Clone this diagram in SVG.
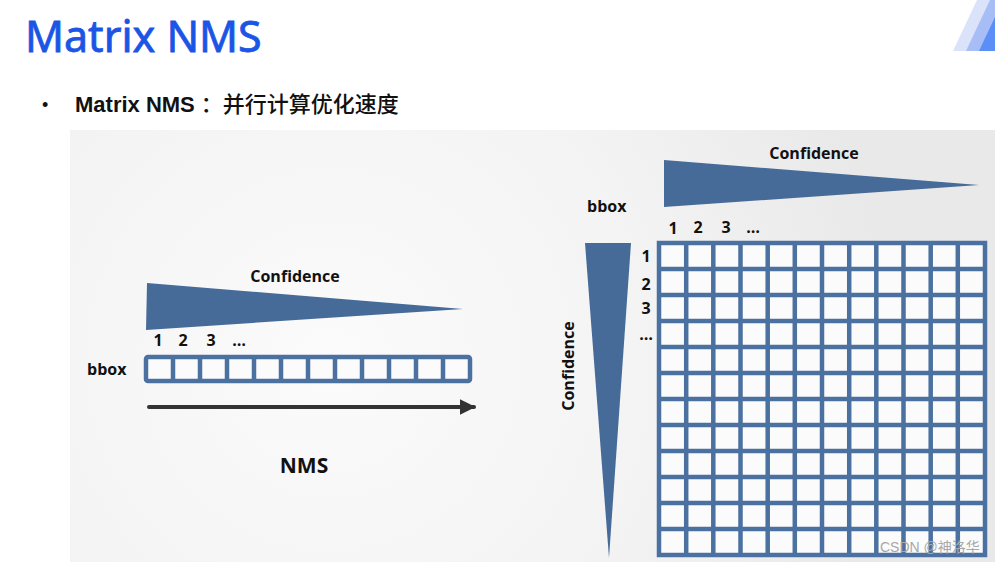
<svg xmlns="http://www.w3.org/2000/svg" width="995" height="562" viewBox="0 0 995 562">
<defs>
<radialGradient id="bg" cx="330" cy="360" r="560" gradientUnits="userSpaceOnUse">
<stop offset="0" stop-color="#fbfbfb"/>
<stop offset="0.6" stop-color="#f3f3f3"/>
<stop offset="1" stop-color="#e9e9e9"/>
</radialGradient>
<marker id="ah" viewBox="0 0 10 10" refX="9" refY="5" markerWidth="4" markerHeight="4.4" orient="auto" markerUnits="strokeWidth">
<path d="M0,0 L10,5 L0,10 z" fill="#333"/>
</marker>
<style>
.tri{fill:#466b99}
.grid{fill:#fbfbfb;stroke:#4b71a1;stroke-width:4.5}
.gl{fill:none;stroke:#4b71a1;stroke-width:4.5}
.lbl{font-family:"Open Sans","Liberation Sans",sans-serif;font-weight:bold;font-size:16px;fill:#111}
.num{font-family:"Open Sans","Liberation Sans",sans-serif;font-weight:bold;font-size:16px;fill:#111}
</style>
</defs>
<rect width="995" height="562" fill="#ffffff"/>
<g id="deco">
<polygon points="953,51 977,0 995,0 995,51" fill="#dbe3fb"/>
<polygon points="966,51 990,0 995,0 995,51" fill="#a6bdf6"/>
<polygon points="979,51 995,17 995,51" fill="#5b8ef6"/>
</g>
<text id="title" x="25" y="52" font-family="'Noto Sans','Open Sans',sans-serif" font-size="43" fill="#1a55e6" stroke="#1a55e6" stroke-width="0.8">Matrix NMS</text>
<g id="subtitle">
<text x="42" y="111" font-family="'Liberation Sans',sans-serif" font-size="18" fill="#111">•</text>
<text x="75" y="112" font-family="'Liberation Sans','Noto Sans CJK SC',sans-serif" font-size="22" fill="#111"><tspan font-weight="bold">Matrix NMS</tspan><tspan dx="6" font-family="'Noto Sans CJK SC',sans-serif" font-size="22" font-weight="500">：并行计算优化速度</tspan></text>
</g>
<rect id="panel" x="70" y="130" width="925" height="432" fill="url(#bg)"/>

<g id="left-confidence">
<polygon class="tri" points="147,283 463,309 146,330"/>
<text class="lbl" x="295" y="282" text-anchor="middle">Confidence</text>
</g>
<g id="left-indices">
<text class="num" x="158" y="346" text-anchor="middle">1</text>
<text class="num" x="183" y="346" text-anchor="middle">2</text>
<text class="num" x="211" y="346" text-anchor="middle">3</text>
<text class="num" x="239" y="346" text-anchor="middle">…</text>
</g>
<g id="left-bbox">
<text class="lbl" x="87" y="375">bbox</text>
<rect class="grid" x="146" y="357" width="324" height="24" rx="2"/>
<path class="gl" d="M173,357V381M200,357V381M227,357V381M254,357V381M281,357V381M308,357V381M335,357V381M362,357V381M389,357V381M416,357V381M443,357V381"/>
</g>
<g id="connectors">
<line x1="149" y1="407" x2="474" y2="407" stroke="#333" stroke-width="4" stroke-linecap="round" marker-end="url(#ah)"/>
</g>
<text id="nms" x="304" y="473" text-anchor="middle" font-family="'Open Sans','Liberation Sans',sans-serif" font-weight="bold" font-size="21" fill="#111">NMS</text>

<g id="right-confidence-top">
<polygon class="tri" points="664,160 979,185 664,207"/>
<text class="lbl" x="814" y="159" text-anchor="middle">Confidence</text>
</g>
<text id="right-bbox" class="lbl" x="587" y="212">bbox</text>
<g id="right-col-indices">
<text class="num" x="673" y="234" text-anchor="middle">1</text>
<text class="num" x="698" y="233" text-anchor="middle">2</text>
<text class="num" x="726" y="233" text-anchor="middle">3</text>
<text class="num" x="753" y="233" text-anchor="middle">…</text>
</g>
<g id="right-confidence-left">
<polygon class="tri" points="585,243 631,243 609,558"/>
<text class="lbl" transform="translate(574,366) rotate(-90)" text-anchor="middle">Confidence</text>
</g>
<g id="right-row-indices">
<text class="num" x="646" y="262" text-anchor="middle">1</text>
<text class="num" x="646" y="290" text-anchor="middle">2</text>
<text class="num" x="646" y="314" text-anchor="middle">3</text>
<text class="num" x="646" y="340" text-anchor="middle">…</text>
</g>
<g id="matrix">
<rect class="grid" x="659" y="243" width="326" height="312"/>
<path class="gl" d="M686.2,243V555M713.3,243V555M740.5,243V555M767.7,243V555M794.8,243V555M822,243V555M849.2,243V555M876.3,243V555M903.5,243V555M930.7,243V555M957.8,243V555"/>
<path class="gl" d="M659,269H985M659,295H985M659,321H985M659,347H985M659,373H985M659,399H985M659,425H985M659,451H985M659,477H985M659,503H985M659,529H985"/>
</g>
<text id="watermark" x="880" y="552" font-family="'Liberation Sans','Noto Sans CJK SC',sans-serif" font-size="14" fill="#a8a8a8">CSDN @神洛华</text>
</svg>
